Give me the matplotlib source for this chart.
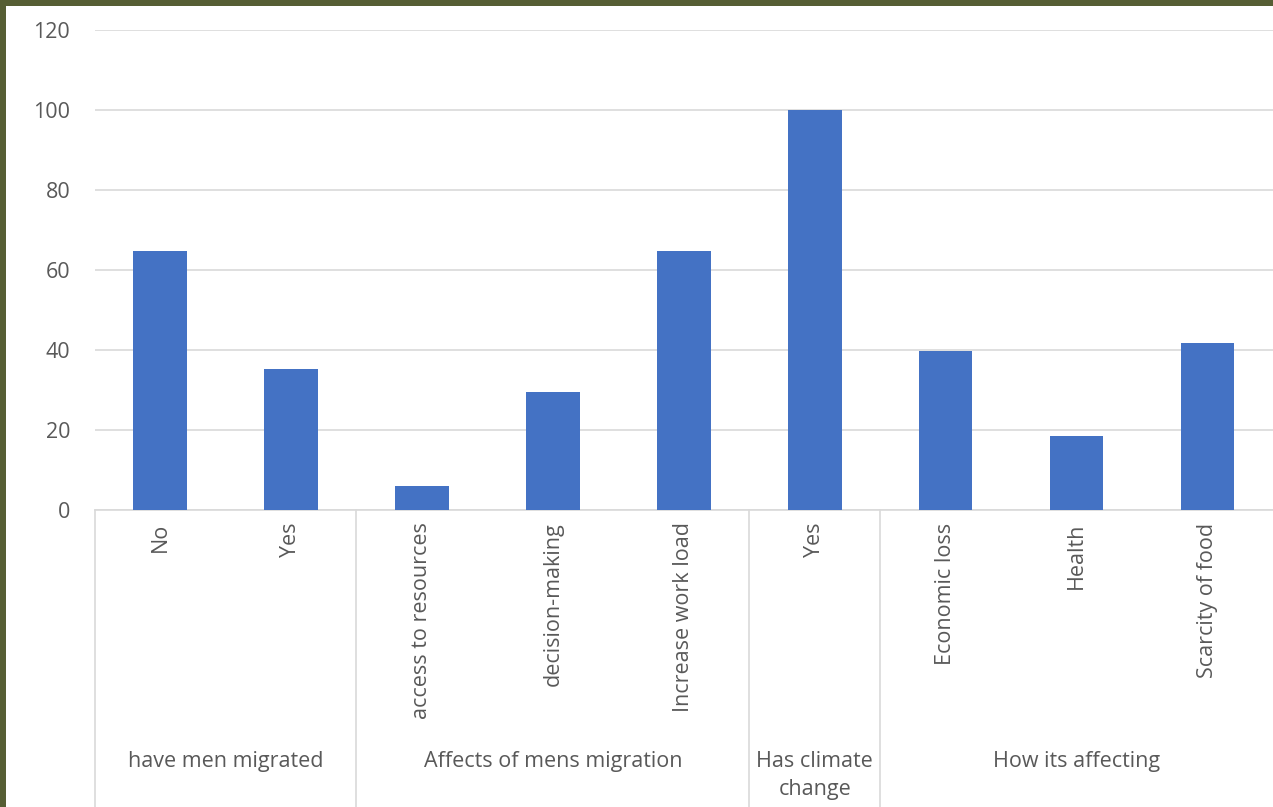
import matplotlib.pyplot as plt
import matplotlib.patches as mpatches
import matplotlib.transforms as mtransforms

# Survey results (percent)
categories = ['No', 'Yes', 'access to resources', 'decision-making',
              'Increase work load', 'Yes', 'Economic loss', 'Health',
              'Scarcity of food']
values = [64.7, 35.3, 5.9, 29.4, 64.7, 100.0, 39.7, 18.6, 41.7]
groups = ['have men migrated', 'Affects of mens migration',
          'Has climate\nchange', 'How its affecting']
group_sizes = [2, 3, 1, 3]
y_ticks = [0, 20, 40, 60, 80, 100, 120]

W, H = 1273, 807
text_color = '#595959'
grid_color = '#D9D9D9'
fs = 15.5

plt.rcParams['font.family'] = ['Open Sans', 'DejaVu Sans']

fig = plt.figure(figsize=(W / 100, H / 100), dpi=100)
fig.patch.set_facecolor('#565E34')
# white chart area inside the olive frame
fig.patches.append(mpatches.Rectangle((6 / W, 0), 1 - 6 / W, 1 - 6 / H,
                                      transform=fig.transFigure,
                                      facecolor='white', edgecolor='none',
                                      zorder=-10))

ax = fig.add_axes([94.5 / W, (H - 510) / H, (W - 94.5) / W, 480 / H])
ax.set_facecolor('white')

x = list(range(len(categories)))
ax.bar(x, values, width=0.41, color='#4472C4', zorder=3)

ax.set_xlim(-0.5, len(categories) - 0.5)
ax.set_ylim(0, 120)
ax.set_yticks(y_ticks)
ax.set_yticklabels([str(t) for t in y_ticks])
ax.tick_params(axis='y', length=0, pad=17.5, labelsize=fs, labelcolor=text_color)
ax.grid(axis='y', color=grid_color, linewidth=1.2, zorder=0)

for side in ['top', 'right', 'left']:
    ax.spines[side].set_visible(False)
ax.spines['bottom'].set_color(grid_color)
ax.spines['bottom'].set_linewidth(1.2)

ax.set_xticks(x)
ax.set_xticklabels(categories, rotation=90, ha='center', va='top')
ax.tick_params(axis='x', length=0, pad=9, labelsize=fs, labelcolor=text_color)

# group separators and group labels
trans = mtransforms.blended_transform_factory(ax.transData, ax.transAxes)
bottom_y = -297 / 480
start = -0.5
ax.plot([start, start], [0, bottom_y], color=grid_color, linewidth=1.2,
        transform=trans, clip_on=False)
for name, size in zip(groups, group_sizes):
    end = start + size
    ax.text((start + end) / 2, -241 / 480, name, transform=trans,
            ha='center', va='top', fontsize=fs, color=text_color,
            linespacing=1.45)
    if end < len(categories) - 0.5:
        ax.plot([end, end], [0, bottom_y], color=grid_color, linewidth=1.2,
                transform=trans, clip_on=False)
    start = end

fig.savefig('out.png', dpi=100, facecolor=fig.get_facecolor())
